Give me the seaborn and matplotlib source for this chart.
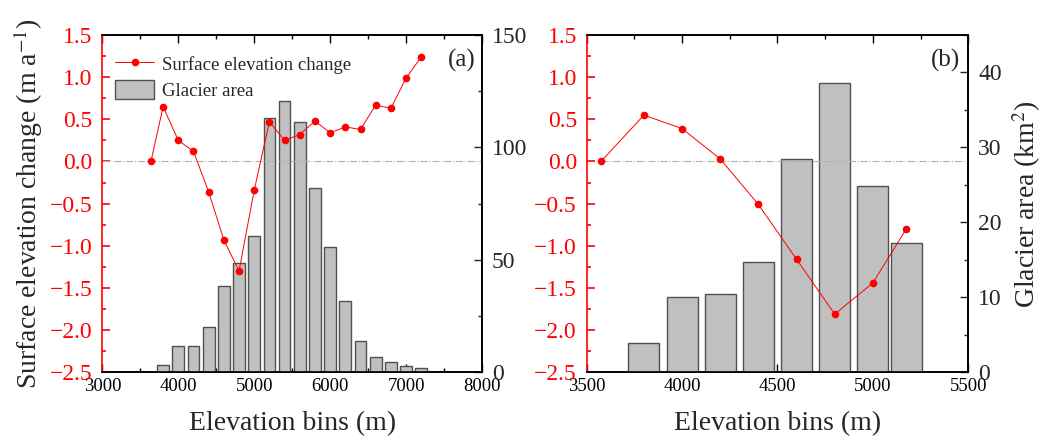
import numpy as np
import pandas as pd
import seaborn as sns
import matplotlib.pyplot as plt
from matplotlib.ticker import MultipleLocator
from matplotlib.patches import Patch

# ---- panel (a) ----
a_bins = [3800, 4000, 4200, 4400, 4600, 4800, 5000, 5200, 5400,
          5600, 5800, 6000, 6200, 6400, 6600, 6800, 7000, 7200]
a_area = [3.2, 11.7, 11.7, 20.2, 38.5, 48.6, 60.7, 113.0, 120.6,
          111.3, 81.9, 55.5, 31.6, 14.1, 6.7, 4.7, 2.8, 1.8]
a_dh_x = [3640, 3800, 4000, 4200, 4400, 4600, 4800, 5000, 5200, 5400,
          5600, 5800, 6000, 6200, 6400, 6600, 6800, 7000, 7200]
a_dh = [0.0, 0.65, 0.25, 0.12, -0.36, -0.93, -1.30, -0.34, 0.47, 0.25,
        0.32, 0.48, 0.34, 0.41, 0.38, 0.67, 0.63, 0.99, 1.24]

# ---- panel (b) ----
b_bins = [3800, 4000, 4200, 4400, 4600, 4800, 5000, 5175]
b_area = [3.9, 10.0, 10.4, 14.7, 28.5, 38.6, 24.9, 17.3]
b_dh_x = [3575, 3800, 4000, 4200, 4400, 4600, 4800, 5000, 5175]
b_dh = [0.0, 0.55, 0.39, 0.03, -0.51, -1.16, -1.81, -1.44, -0.80]

sns.set_theme(style="ticks")
plt.rcParams['font.family'] = ['Liberation Serif', 'DejaVu Serif']
plt.rcParams['mathtext.fontset'] = 'stix'

BAR_FC = '#c0c0c0'
BAR_EC = '#505050'
RED = '#ff0000'

fig = plt.figure(figsize=(10.51, 4.41), dpi=100)


def panel(rect, bins, area, bar_w, dh_x, dh, xlim, xmaj, xmin_, ylim2, ymaj2, ymin2, letter):
    ax = fig.add_axes(rect)              # bars + right axis (bottom layer)
    df = pd.DataFrame({'elev': bins, 'area': area})
    sns.barplot(data=df, x='elev', y='area', ax=ax, native_scale=True, orient='x',
                width=bar_w, color=BAR_FC, saturation=1, errorbar=None,
                edgecolor=BAR_EC, linewidth=1.0, zorder=3)
    axl = ax.twinx()                      # line + left axis (top layer)
    ax.yaxis.tick_right()
    ax.yaxis.set_label_position('right')
    axl.yaxis.tick_left()
    axl.yaxis.set_label_position('left')

    axl.axhline(0, xmin=(dh_x[0] - xlim[0]) / (xlim[1] - xlim[0]) if letter == '(b)' else 0,
                color='#b0b0b0', lw=0.8, ls='-.', zorder=1)
    sns.lineplot(x=dh_x, y=dh, ax=axl, color=RED, marker='o', markersize=5.5,
                 markeredgewidth=0, linewidth=0.7, sort=False, zorder=4)

    ax.set_xlim(*xlim)
    ax.set_ylim(*ylim2)
    axl.set_ylim(-2.5, 1.5)
    ax.xaxis.set_major_locator(MultipleLocator(xmaj))
    ax.xaxis.set_minor_locator(MultipleLocator(xmin_))
    ax.yaxis.set_major_locator(MultipleLocator(ymaj2))
    ax.yaxis.set_minor_locator(MultipleLocator(ymin2))
    axl.yaxis.set_major_locator(MultipleLocator(0.5))
    axl.yaxis.set_minor_locator(MultipleLocator(0.25))

    ax.tick_params(axis='x', which='both', direction='in', top=True, bottom=True,
                   labelsize=13.5, pad=4, color='black', labelcolor='black')
    ax.tick_params(axis='x', which='major', length=6, width=1)
    ax.tick_params(axis='x', which='minor', length=3, width=1)
    ax.tick_params(axis='y', which='both', direction='in', right=True, left=False,
                   labelright=True, labelleft=False, labelsize=17, pad=7)
    ax.tick_params(axis='y', which='major', length=6, width=1)
    ax.tick_params(axis='y', which='minor', length=3, width=1)
    axl.tick_params(axis='y', which='both', direction='in', left=True, right=False,
                    labelleft=True, labelright=False, labelsize=17, pad=7,
                    color=RED, labelcolor=RED)
    axl.tick_params(axis='y', which='major', length=6, width=1.2)
    axl.tick_params(axis='y', which='minor', length=3, width=1.2)

    for a in (ax, axl):
        for s in a.spines.values():
            s.set_color('black')
            s.set_linewidth(1.2)
    axl.spines['left'].set_color(RED)
    ax.spines['left'].set_visible(False)

    ax.set_xlabel('Elevation bins (m)', fontsize=20, labelpad=12)
    ax.set_ylabel('')
    axl.set_ylabel('')
    axl.text(0.947 if letter == '(a)' else 0.94, 0.925, letter, transform=axl.transAxes,
             fontsize=18, ha='center', va='center')
    return ax, axl


ax_a, axl_a = panel([0.0974, 0.1558, 0.3612, 0.7648], a_bins, a_area, 0.775,
                    a_dh_x, a_dh, (3000, 8000), 1000, 500, (0, 150), 50, 25, '(a)')
ax_b, axl_b = panel([0.5582, 0.1558, 0.3631, 0.7648], b_bins, b_area, 0.925,
                    b_dh_x, b_dh, (3500, 5500), 500, 250, (0, 45), 10, 5, '(b)')

axl_a.set_ylabel('Surface elevation change (m a$^{-1}$)', fontsize=20)
axl_a.yaxis.set_label_coords(-0.152, 0.5)
ax_b.set_ylabel('Glacier area (km$^{2}$)', fontsize=20)
ax_b.yaxis.set_label_coords(1.11, 0.5)

handles = [axl_a.get_lines()[-1],
           Patch(facecolor=BAR_FC, edgecolor=BAR_EC, linewidth=1.0)]
axl_a.legend(handles, ['Surface elevation change', 'Glacier area'], loc='upper left',
             bbox_to_anchor=(-0.016, 1.0), frameon=False, fontsize=13.5,
             handlelength=2.1, handleheight=1.2, handletextpad=0.4,
             labelspacing=0.35, borderaxespad=0.6)

fig.savefig('out.png', dpi=100)
